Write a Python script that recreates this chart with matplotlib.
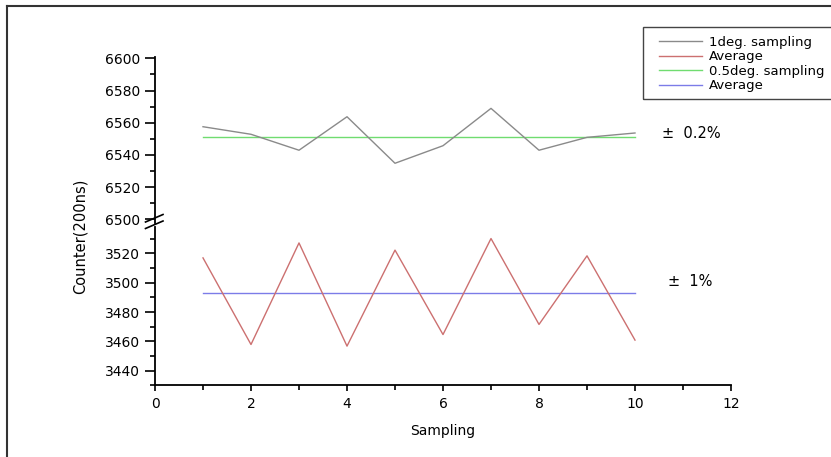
import matplotlib
matplotlib.use('Agg')
import matplotlib.pyplot as plt
from matplotlib.lines import Line2D
from matplotlib.patches import Rectangle
from matplotlib.ticker import MultipleLocator

# ---- data ----
sampling = [1, 2, 3, 4, 5, 6, 7, 8, 9, 10]
deg1_sampling = [6557.5, 6552.8, 6542.9, 6563.7, 6534.8, 6545.7, 6568.9, 6542.9, 6550.9, 6553.6]
red_average = [3517.0, 3457.9, 3527.2, 3456.8, 3522.3, 3464.7, 3530.2, 3471.6, 3518.4, 3460.9]
deg05_sampling = [6551.1, 6551.1, 6551.1, 6551.1, 6551.1, 6551.1, 6551.1, 6551.1, 6551.1, 6551.1]
blue_average = [3492.7, 3492.7, 3492.7, 3492.7, 3492.7, 3492.7, 3492.7, 3492.7, 3492.7, 3492.7]
series_labels = ["1deg. sampling", "Average", "0.5deg. sampling", "Average"]
x_ticks = [0, 2, 4, 6, 8, 10, 12]
top_ticks = [6500, 6520, 6540, 6560, 6580, 6600]
bot_ticks = [3440, 3460, 3480, 3500, 3520]

W, H = 831, 457
fig = plt.figure(figsize=(W / 100, H / 100), dpi=100)
fig.patch.set_facecolor('white')


def fx(px):
    return px / W


def fy(py):
    return 1 - py / H


L, R = 155, 731
top_y0, top_y1 = 56.7, 222.5
bot_y0, bot_y1 = 227.1, 385.4
ax_top = fig.add_axes([fx(L), fy(top_y1), (R - L) / W, (top_y1 - top_y0) / H])
ax_bot = fig.add_axes([fx(L), fy(bot_y1), (R - L) / W, (bot_y1 - bot_y0) / H])

c_gray = '#8a8a8a'
c_red = '#cc7070'
c_green = '#70dc70'
c_blue = '#7c7ce8'
lw = 1.0

l3, = ax_top.plot(sampling, deg05_sampling, color=c_green, lw=lw)
l1, = ax_top.plot(sampling, deg1_sampling, color=c_gray, lw=lw)
l4, = ax_bot.plot(sampling, blue_average, color=c_blue, lw=lw)
l2, = ax_bot.plot(sampling, red_average, color=c_red, lw=lw)

for ax in (ax_top, ax_bot):
    ax.set_xlim(0, 12)
    for s in ('top', 'right'):
        ax.spines[s].set_visible(False)
    ax.spines['left'].set_linewidth(1.3)
    ax.spines['bottom'].set_linewidth(1.3)
    ax.yaxis.set_minor_locator(MultipleLocator(10))
    ax.tick_params(axis='y', which='major', direction='out', length=7, width=1.2, pad=3.5, labelsize=10)
    ax.tick_params(axis='y', which='minor', direction='out', length=3.6, width=1.2)

ax_top.set_ylim(6498, 6601)
ax_top.set_yticks(top_ticks)
ax_top.spines['bottom'].set_visible(False)
ax_top.tick_params(axis='x', which='both', bottom=False, labelbottom=False)

ax_bot.set_ylim(3430, 3538)
ax_bot.set_yticks(bot_ticks)
ax_bot.set_xticks(x_ticks)
ax_bot.xaxis.set_minor_locator(MultipleLocator(1))
ax_bot.tick_params(axis='x', which='major', direction='out', length=4.5, width=1.2, pad=4, labelsize=10)
ax_bot.tick_params(axis='x', which='minor', direction='out', length=3.5, width=1.2)

# axis labels
fig.text(fx(443), fy(431), 'Sampling', ha='center', va='center', fontsize=10)
fig.text(fx(80.5), fy(236), 'Counter(200ns)', ha='center', va='center', rotation=90, fontsize=10.5)

# annotations
fig.text(fx(691), fy(133), '\u00b1  0.2%', ha='center', va='center', fontsize=10.5)
fig.text(fx(690), fy(281), '\u00b1  1%', ha='center', va='center', fontsize=10.5)

# break marks
for (x0, y0, x1, y1) in [(145.5, 222.0, 163.0, 214.5), (145.5, 228.5, 163.0, 221.0)]:
    fig.add_artist(Line2D([fx(x0), fx(x1)], [fy(y0), fy(y1)], transform=fig.transFigure,
                          color='black', lw=1.2))

# legend with manual frame
fig.add_artist(Rectangle((fx(643), fy(99)), fx(900) - fx(643), fy(27) - fy(99),
                         transform=fig.transFigure, fill=False, edgecolor='#444444', lw=1.0))
fig.legend([l1, l2, l3, l4], series_labels, loc='upper left',
           bbox_to_anchor=(fx(656), fy(33)), frameon=False, fontsize=9.5,
           handlelength=3.3, labelspacing=0.12, borderaxespad=0, borderpad=0.2,
           handletextpad=0.5)

# figure border (top and left)
fig.add_artist(Line2D([fx(7), fx(831)], [fy(6), fy(6)], transform=fig.transFigure, color='#333333', lw=1.5))
fig.add_artist(Line2D([fx(7), fx(7)], [fy(6), fy(457)], transform=fig.transFigure, color='#333333', lw=1.5))

fig.savefig('out.png', dpi=100)
